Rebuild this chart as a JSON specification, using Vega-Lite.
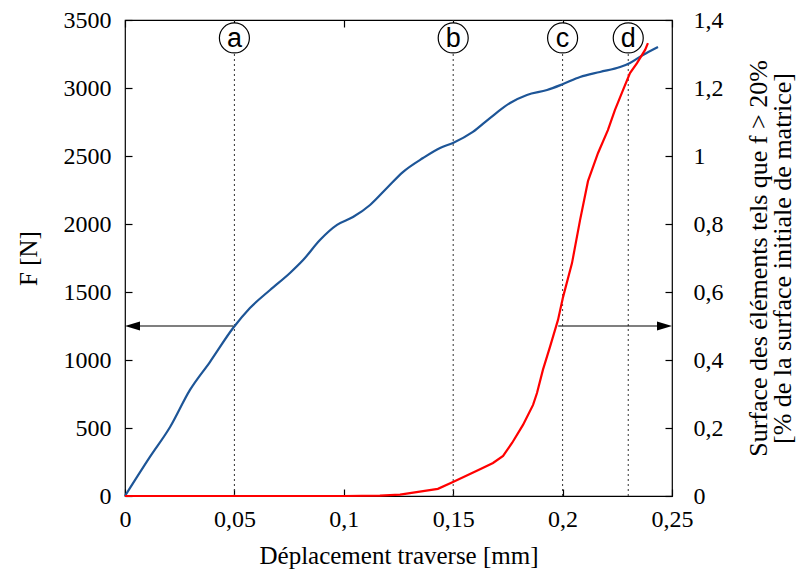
{
  "$schema": "https://vega.github.io/schema/vega-lite/v6.json",
  "width": 547,
  "height": 476,
  "autosize": "none",
  "padding": {"left": 125, "top": 20, "right": 128, "bottom": 80},
  "config": {
    "view": {"stroke": "black", "strokeWidth": 1.2},
    "font": "Liberation Serif",
    "axis": {
      "grid": false,
      "domain": false,
      "tickColor": "black",
      "tickWidth": 1.2,
      "tickSize": 7,
      "offset": -7,
      "labelFlush": false,
      "labelFont": "Liberation Serif",
      "labelFontSize": 24,
      "labelColor": "black",
      "titleFont": "Liberation Serif",
      "titleFontSize": 25,
      "titleFontWeight": "normal",
      "titleColor": "black"
    }
  },
  "datasets": {
    "force": [
      {"d": 0, "F": 0}, {"d": 0.0114, "F": 287}, {"d": 0.0206, "F": 507}, {"d": 0.0297, "F": 780},
      {"d": 0.0388, "F": 985}, {"d": 0.0494, "F": 1235}, {"d": 0.0571, "F": 1382}, {"d": 0.0663, "F": 1515},
      {"d": 0.0754, "F": 1640}, {"d": 0.0814, "F": 1735}, {"d": 0.0891, "F": 1882}, {"d": 0.0969, "F": 1993},
      {"d": 0.1042, "F": 2051}, {"d": 0.112, "F": 2140}, {"d": 0.1197, "F": 2265}, {"d": 0.127, "F": 2382},
      {"d": 0.1362, "F": 2485}, {"d": 0.144, "F": 2559}, {"d": 0.1499, "F": 2596}, {"d": 0.159, "F": 2677},
      {"d": 0.1668, "F": 2779}, {"d": 0.176, "F": 2890}, {"d": 0.1837, "F": 2949}, {"d": 0.1929, "F": 2985},
      {"d": 0.2002, "F": 3029}, {"d": 0.208, "F": 3081}, {"d": 0.2171, "F": 3118}, {"d": 0.2263, "F": 3154},
      {"d": 0.2308, "F": 3184}, {"d": 0.2367, "F": 3243}, {"d": 0.2436, "F": 3302}
    ],
    "surface": [
      {"d": 0, "S": 0}, {"d": 0.1, "S": 0}, {"d": 0.1165, "S": 0.001}, {"d": 0.1257, "S": 0.004},
      {"d": 0.143, "S": 0.021}, {"d": 0.1499, "S": 0.041}, {"d": 0.1613, "S": 0.076}, {"d": 0.1682, "S": 0.097},
      {"d": 0.1728, "S": 0.118}, {"d": 0.1769, "S": 0.156}, {"d": 0.1819, "S": 0.209}, {"d": 0.1865, "S": 0.268},
      {"d": 0.1883, "S": 0.303}, {"d": 0.191, "S": 0.371}, {"d": 0.1942, "S": 0.438}, {"d": 0.1979, "S": 0.518},
      {"d": 0.2002, "S": 0.585}, {"d": 0.2043, "S": 0.685}, {"d": 0.208, "S": 0.812}, {"d": 0.2116, "S": 0.926},
      {"d": 0.2162, "S": 1.009}, {"d": 0.2207, "S": 1.076}, {"d": 0.2239, "S": 1.135}, {"d": 0.2276, "S": 1.194},
      {"d": 0.2308, "S": 1.244}, {"d": 0.234, "S": 1.273}, {"d": 0.2377, "S": 1.312}, {"d": 0.239, "S": 1.332}
    ],
    "marks": [
      {"d": 0.05, "label": "a", "F": 3368},
      {"d": 0.15, "label": "b", "F": 3368},
      {"d": 0.2, "label": "c", "F": 3368},
      {"d": 0.23, "label": "d", "F": 3368}
    ],
    "arrows": [
      {"d": 0.0495, "d2": 0.002, "F": 1250},
      {"d": 0.198, "d2": 0.248, "F": 1250}
    ],
    "heads": [
      {"d": 0, "F": 1250, "dir": "left"},
      {"d": 0.25, "F": 1250, "dir": "right"}
    ]
  },
  "layer": [
    {
      "data": {"name": "marks"},
      "mark": {"type": "rule", "strokeDash": [2, 3], "color": "#333333", "strokeWidth": 1},
      "encoding": {
        "x": {"field": "d", "type": "quantitative", "scale": {"domain": [0, 0.25], "nice": false},
          "axis": {"orient": "bottom", "title": "Déplacement traverse [mm]", "values": [0, 0.05, 0.1, 0.15, 0.2, 0.25],
            "labelExpr": "replace(format(datum.value, '~g'), '.', ',')", "labelPadding": 11, "titlePadding": 12}},
        "y": {"datum": 0, "type": "quantitative", "scale": {"domain": [0, 3500], "nice": false},
          "axis": {"orient": "left", "title": "F [N]", "values": [0, 500, 1000, 1500, 2000, 2500, 3000, 3500], "format": "d", "labelPadding": 14, "titlePadding": 22}},
        "y2": {"datum": 3500}
      }
    },
    {
      "data": {"name": "force"},
      "mark": {"type": "line", "color": "#1d5597", "strokeWidth": 2.2, "interpolate": "monotone"},
      "encoding": {
        "x": {"field": "d", "type": "quantitative", "scale": {"domain": [0, 0.25], "nice": false}, "axis": null},
        "y": {"field": "F", "type": "quantitative", "scale": {"domain": [0, 3500], "nice": false}, "axis": null}
      }
    },
    {
      "data": {"name": "arrows"},
      "mark": {"type": "rule", "color": "black", "strokeWidth": 1.2},
      "encoding": {
        "x": {"field": "d", "type": "quantitative", "scale": {"domain": [0, 0.25], "nice": false}, "axis": null},
        "x2": {"field": "d2"},
        "y": {"field": "F", "type": "quantitative", "scale": {"domain": [0, 3500], "nice": false}, "axis": null}
      }
    },
    {
      "data": {"name": "heads"},
      "transform": [{"filter": "datum.dir == 'left'"}],
      "mark": {"type": "point", "shape": "M0,0L2,-0.6L2,0.6Z", "filled": true, "color": "black", "size": 225, "opacity": 1},
      "encoding": {
        "x": {"field": "d", "type": "quantitative", "scale": {"domain": [0, 0.25], "nice": false}, "axis": null},
        "y": {"field": "F", "type": "quantitative", "scale": {"domain": [0, 3500], "nice": false}, "axis": null}
      }
    },
    {
      "data": {"name": "heads"},
      "transform": [{"filter": "datum.dir == 'right'"}],
      "mark": {"type": "point", "shape": "M0,0L-2,-0.6L-2,0.6Z", "filled": true, "color": "black", "size": 225, "opacity": 1},
      "encoding": {
        "x": {"field": "d", "type": "quantitative", "scale": {"domain": [0, 0.25], "nice": false}, "axis": null},
        "y": {"field": "F", "type": "quantitative", "scale": {"domain": [0, 3500], "nice": false}, "axis": null}
      }
    },
    {
      "data": {"name": "marks"},
      "mark": {"type": "point", "shape": "circle", "filled": true, "fill": "white", "stroke": "black", "strokeWidth": 1.2, "size": 900, "opacity": 1},
      "encoding": {
        "x": {"field": "d", "type": "quantitative", "scale": {"domain": [0, 0.25], "nice": false}, "axis": null},
        "y": {"field": "F", "type": "quantitative", "scale": {"domain": [0, 3500], "nice": false}, "axis": null}
      }
    },
    {
      "data": {"name": "marks"},
      "mark": {"type": "text", "font": "Liberation Sans", "fontSize": 27, "baseline": "middle", "align": "center", "dy": 1, "color": "black"},
      "encoding": {
        "x": {"field": "d", "type": "quantitative", "scale": {"domain": [0, 0.25], "nice": false}, "axis": null},
        "y": {"field": "F", "type": "quantitative", "scale": {"domain": [0, 3500], "nice": false}, "axis": null},
        "text": {"field": "label"}
      }
    },
    {
      "data": {"name": "surface"},
      "mark": {"type": "line", "color": "#ff0000", "strokeWidth": 2.2},
      "encoding": {
        "x": {"field": "d", "type": "quantitative", "scale": {"domain": [0, 0.25], "nice": false},
          "axis": {"orient": "top", "labels": false, "title": null, "values": [0, 0.05, 0.1, 0.15, 0.2, 0.25]}},
        "y": {"field": "S", "type": "quantitative", "scale": {"domain": [0, 1.4], "nice": false},
          "axis": {"orient": "right", "values": [0, 0.2, 0.4, 0.6, 0.8, 1, 1.2, 1.4],
            "labelExpr": "replace(format(datum.value, '~g'), '.', ',')", "labelPadding": 21, "titlePadding": 24, "titleAngle": 270, "titleLineHeight": 24, "titleFontSize": 26,
            "title": ["Surface des éléments tels que f > 20%", "[% de la surface initiale de matrice]"]}}
      }
    }
  ],
  "resolve": {"scale": {"y": "independent"}, "axis": {"x": "independent"}}
}
